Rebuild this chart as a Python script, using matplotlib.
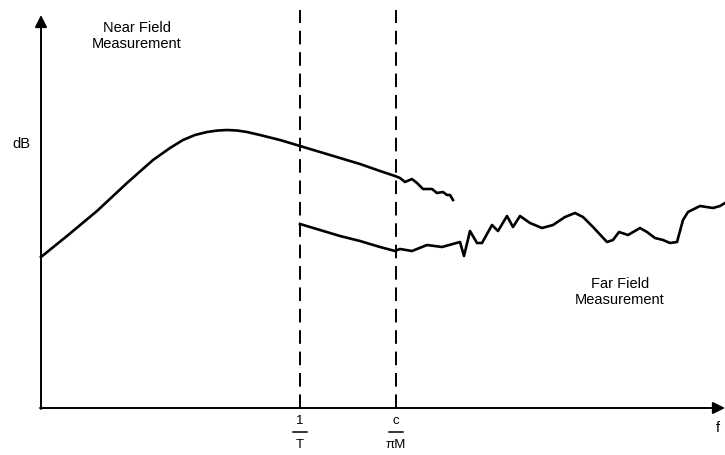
"""Near field vs far field measurement sketch (dB vs f)."""

import matplotlib
matplotlib.use("Agg")
import matplotlib.pyplot as plt

plt.rcParams["font.family"] = ["Liberation Sans", "DejaVu Sans"]

H = 455
near_x = [41, 67, 97, 127, 153, 170, 183, 195, 207, 218, 227, 237, 247, 260, 280,
          300, 320, 340, 360, 380, 395, 400, 405, 412, 417, 423, 432, 437, 443, 447,
          450, 453]
near_y = [257, 236, 211, 183, 160, 148, 140, 135, 132, 130.5, 130, 130.5, 132, 135, 140,
          146, 152, 158, 164, 171, 176, 178, 182, 179, 183, 189, 189, 193, 192, 195,
          195, 200]

far_x = [300, 320, 340, 360, 380, 395, 400, 412, 427, 442, 460, 464, 470, 477, 482,
         492, 498, 507, 513, 520, 530, 542, 553, 565, 575, 583, 593, 607, 613, 619,
         628, 640, 647, 655, 663, 670, 677, 683, 688, 700, 713, 720, 725]
far_y = [224, 230, 236, 241, 247, 251, 249, 251, 245, 247, 242, 256, 231, 243, 243,
         225, 231, 216, 227, 216, 223, 228, 225, 217, 213, 217, 227, 242, 240, 232,
         235, 228, 232, 238, 240, 243, 242, 220, 212, 206, 208, 206, 203]

marker_x = [300, 396]
marker_num = ["1", "c"]
marker_den = ["T", "πM"]


def flip(ys):
    return [H - y for y in ys]


fig = plt.figure(figsize=(7.25, 4.55), dpi=100)
ax = fig.add_axes([0, 0, 1, 1])
ax.set_xlim(0, 725)
ax.set_ylim(0, H)
ax.axis("off")

# axes with arrows
ax.annotate("", xy=(41, H - 15), xytext=(41, H - 409),
            arrowprops=dict(arrowstyle="-|>", mutation_scale=18, lw=1.4, color="k",
                            shrinkA=0, shrinkB=0))
ax.annotate("", xy=(725, H - 408), xytext=(40, H - 408),
            arrowprops=dict(arrowstyle="-|>", mutation_scale=18, lw=1.4, color="k",
                            shrinkA=0, shrinkB=0))

# dashed markers
for mx in marker_x:
    ax.plot([mx, mx], [H - 408, H - 10], color="k", lw=1.4, ls=(0, (7, 4)))

ax.plot(near_x, flip(near_y), color="k", lw=1.9, solid_joinstyle="round")
ax.plot(far_x, flip(far_y), color="k", lw=1.9, solid_joinstyle="round")

# fraction labels under the f axis
for mx, num, den in zip(marker_x, marker_num, marker_den):
    ax.text(mx, H - 421, num, ha="center", va="center", fontsize=9.5)
    ax.plot([mx - 7, mx + 7], [H - 432, H - 432], color="k", lw=1.1)
    ax.text(mx, H - 445, den, ha="center", va="center", fontsize=9.5)

ax.text(137, H - 36, "Near Field\nMeasurement", ha="center", va="center",
        fontsize=10.5, linespacing=1.25)
ax.text(620, H - 292, "Far Field\nMeasurement", ha="center", va="center",
        fontsize=10.5, linespacing=1.25)
ax.text(21, H - 144, "dB", ha="center", va="center", fontsize=10.5)
ax.text(718, H - 428, "f", ha="center", va="center", fontsize=10.5)

fig.savefig("out.png", dpi=100)
